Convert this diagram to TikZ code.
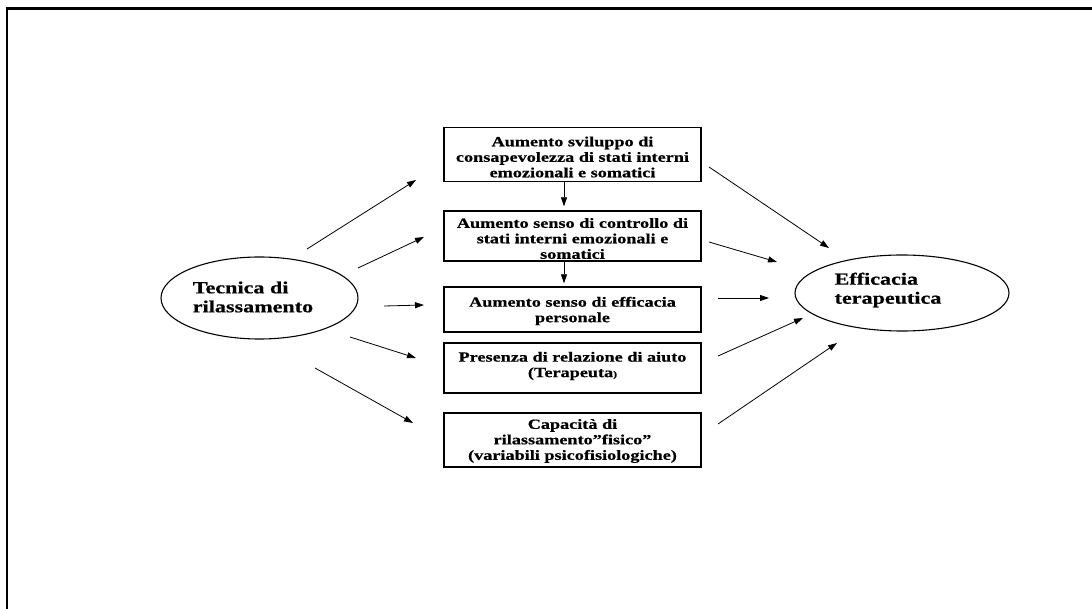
\documentclass[tikz,border=0pt]{standalone}
\usepackage{fontspec}
\setmainfont{Liberation Serif}[FakeStretch=1.3,BoldFeatures={FakeBold=0.6}]
\usetikzlibrary{arrows.meta,shapes.geometric}
\begin{document}
\begin{tikzpicture}[x=1pt,y=-1pt,
  boxnode/.style={draw,line width=1.4pt,minimum width=257pt,inner sep=0pt},
  btext/.style={align=center,font=\fontsize{14}{15.5}\selectfont\bfseries,inner sep=0pt},
  etext/.style={align=left,font=\fontsize{17}{19}\selectfont\bfseries,inner sep=0pt},
  ell/.style={draw,ellipse,line width=1.1pt,inner sep=0pt},
  arr/.style={line width=0.8pt,-{Triangle[length=9pt,width=6pt]}}]
\useasboundingbox (0,0) rectangle (1092,609);
% frame
\draw[line width=3pt] (5.5,9) -- (1092,9);
\draw[line width=2pt] (7,9) -- (7,609);
% boxes
\node[boxnode,minimum height=54pt] (b1) at (572.5,154.5) {};
\node[btext] (t1) at (572.5,157) {Aumento sviluppo di\\consapevolezza di stati interni\\emozionali e somatici};
\node[boxnode,minimum height=50pt] (b2) at (572.5,236) {};
\node[btext] (t2) at (572.5,238.5) {Aumento senso di controllo di\\stati interni emozionali e\\somatici};
\node[boxnode,minimum height=45pt] (b3) at (572.5,309.5) {};
\node[btext] (t3) at (572.5,311) {Aumento senso di efficacia\\personale};
\node[boxnode,minimum height=50pt] (b4) at (572.5,368) {};
\node[btext] (t4) at (572.5,366) {Presenza di relazione di aiuto\\(Terapeuta{\fontsize{9}{10}\selectfont)}};
\node[boxnode,minimum height=54pt] (b5) at (572.5,440) {};
\node[btext] (t5) at (572.5,441) {Capacità di\\rilassamento”fisico”\\(variabili psicofisiologiche)};
% ellipses
\node[ell,minimum width=197pt,minimum height=82pt] (left) at (259.5,298) {};
\node[etext] (lt) at (253,297) {Tecnica di\\rilassamento};
\node[ell,minimum width=214pt,minimum height=76pt] (right) at (902,293) {};
\node[etext] (rt) at (888,290) {Efficacia\\terapeutica};
% vertical arrows
\draw[arr,shorten >=4pt] ([xshift=-8.5pt]b1.south) -- ([xshift=-8.5pt]b2.north);
\draw[arr,shorten >=3pt] ([xshift=-8.5pt]b2.south) -- ([xshift=-8.5pt]b3.north);
% free-ended arrows, left
\coordinate (a1s) at (307,249); \coordinate (a1e) at (416,180);
\coordinate (a2s) at (358,268); \coordinate (a2e) at (424,237);
\coordinate (a3s) at (384,306); \coordinate (a3e) at (424,305);
\coordinate (a4s) at (350,337); \coordinate (a4e) at (416,358);
\coordinate (a5s) at (315,368); \coordinate (a5e) at (413,423);
\draw[arr] (a1s) -- (a1e);
\draw[arr] (a2s) -- (a2e);
\draw[arr] (a3s) -- (a3e);
\draw[arr] (a4s) -- (a4e);
\draw[arr] (a5s) -- (a5e);
% free-ended arrows, right
\coordinate (c1s) at (709,167); \coordinate (c1e) at (829,248);
\coordinate (c2s) at (709,242); \coordinate (c2e) at (777,262);
\coordinate (c3s) at (718,298); \coordinate (c3e) at (769,298);
\coordinate (c4s) at (718,356); \coordinate (c4e) at (803,318);
\coordinate (c5s) at (718,424); \coordinate (c5e) at (837,343);
\draw[arr] (c1s) -- (c1e);
\draw[arr] (c2s) -- (c2e);
\draw[arr] (c3s) -- (c3e);
\draw[arr] (c4s) -- (c4e);
\draw[arr] (c5s) -- (c5e);
\end{tikzpicture}
\end{document}
